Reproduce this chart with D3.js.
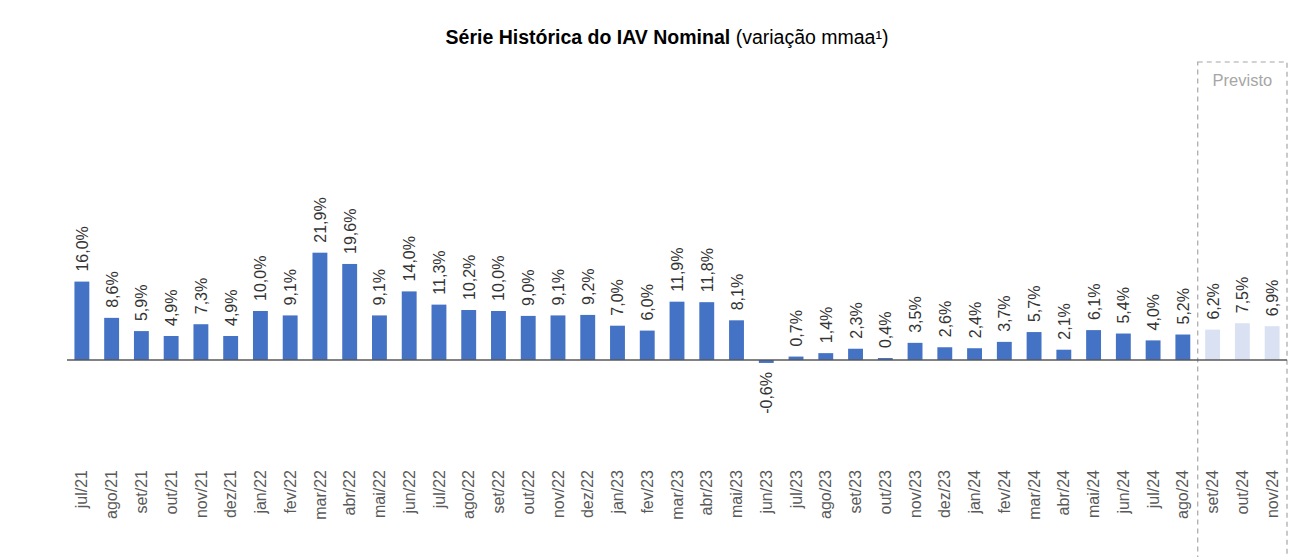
<!DOCTYPE html>
<html><head><meta charset="utf-8">
<script src="https://cdn.jsdelivr.net/npm/d3@7"></script>
<style>body{margin:0;background:#fff;}svg{display:block;font-family:"Liberation Sans",Arial,sans-serif;}</style>
</head><body>
<svg id="c" width="1299" height="557"></svg>
<script>
const categories = ["jul/21","ago/21","set/21","out/21","nov/21","dez/21","jan/22","fev/22","mar/22","abr/22","mai/22","jun/22","jul/22","ago/22","set/22","out/22","nov/22","dez/22","jan/23","fev/23","mar/23","abr/23","mai/23","jun/23","jul/23","ago/23","set/23","out/23","nov/23","dez/23","jan/24","fev/24","mar/24","abr/24","mai/24","jun/24","jul/24","ago/24","set/24","out/24","nov/24"];
const values = [16.0,8.6,5.9,4.9,7.3,4.9,10.0,9.1,21.9,19.6,9.1,14.0,11.3,10.2,10.0,9.0,9.1,9.2,7.0,6.0,11.9,11.8,8.1,-0.6,0.7,1.4,2.3,0.4,3.5,2.6,2.4,3.7,5.7,2.1,6.1,5.4,4.0,5.2,6.2,7.5,6.9];
const forecast = ["set/24","out/24","nov/24"];
const forecastLabel = "Previsto";

const svg = d3.select("#c");
const x = d3.scaleBand().domain(categories).range([67, 1287]).paddingInner(0.5).paddingOuter(0.25);
const y = d3.scaleLinear().domain([-20, 25]).range([458, 237.5]);
const fmt = v => d3.format(".1f")(v).replace(".", ",").replace("−","-") + "%";

// title
const t = svg.append("text").attr("x", 667).attr("y", 44).attr("text-anchor", "middle")
  .attr("font-size", 19.5).attr("fill", "#000");
t.append("tspan").attr("font-weight", "bold").text("Série Histórica do IAV Nominal");
t.append("tspan").text(" (variação mmaa¹)");

// forecast box
const step = x.step();
const fx0 = x(forecast[0]) - step * x.paddingInner() / 2;
const fx1 = x(forecast[forecast.length - 1]) + x.bandwidth() + step * x.paddingInner() / 2;
svg.append("rect").attr("x", fx0).attr("y", 62).attr("width", fx1 - fx0).attr("height", 520)
  .attr("fill", "none").attr("stroke", "#a6a6a6").attr("stroke-width", 1.2).attr("stroke-dasharray", "5,4");
svg.append("text").attr("x", (fx0 + fx1) / 2).attr("y", 86).attr("text-anchor", "middle")
  .attr("font-size", 16.5).attr("fill", "#a6a6a6").text(forecastLabel);

// bars
const data = categories.map((c, i) => ({c, v: values[i], f: forecast.includes(c)}));
svg.append("g").selectAll("rect").data(data).join("rect")
  .attr("x", d => x(d.c)).attr("width", x.bandwidth())
  .attr("y", d => y(Math.max(0, d.v))).attr("height", d => Math.abs(y(d.v) - y(0)))
  .attr("fill", d => d.f ? "#d9e1f2" : "#4472c4");

// axis line
svg.append("line").attr("x1", 67).attr("x2", 1287).attr("y1", y(0)).attr("y2", y(0))
  .attr("stroke", "#595959").attr("stroke-width", 1.5);

// value labels
svg.append("g").selectAll("text").data(data).join("text")
  .attr("transform", d => {
    const cx = x(d.c) + x.bandwidth() / 2 + 6;
    const yy = d.v >= 0 ? y(d.v) - 10 : y(0) + 12;
    return `translate(${cx},${yy}) rotate(-90)`;
  })
  .attr("text-anchor", d => d.v >= 0 ? "start" : "end")
  .attr("font-size", 16).attr("fill", "#333333")
  .text(d => fmt(d.v));

// category labels
const ax = d3.axisBottom(x).tickSize(0).tickPadding(0);
const g = svg.append("g").attr("transform", "translate(0,470)").call(ax);
g.select(".domain").remove();
g.selectAll("text").attr("transform", "rotate(-90)").attr("text-anchor", "end")
  .attr("x", 0).attr("y", 0).attr("dy", "0.35em")
  .attr("font-size", 16).attr("fill", "#595959").attr("font-family", "Liberation Sans, Arial, sans-serif");
</script>
</body></html>
